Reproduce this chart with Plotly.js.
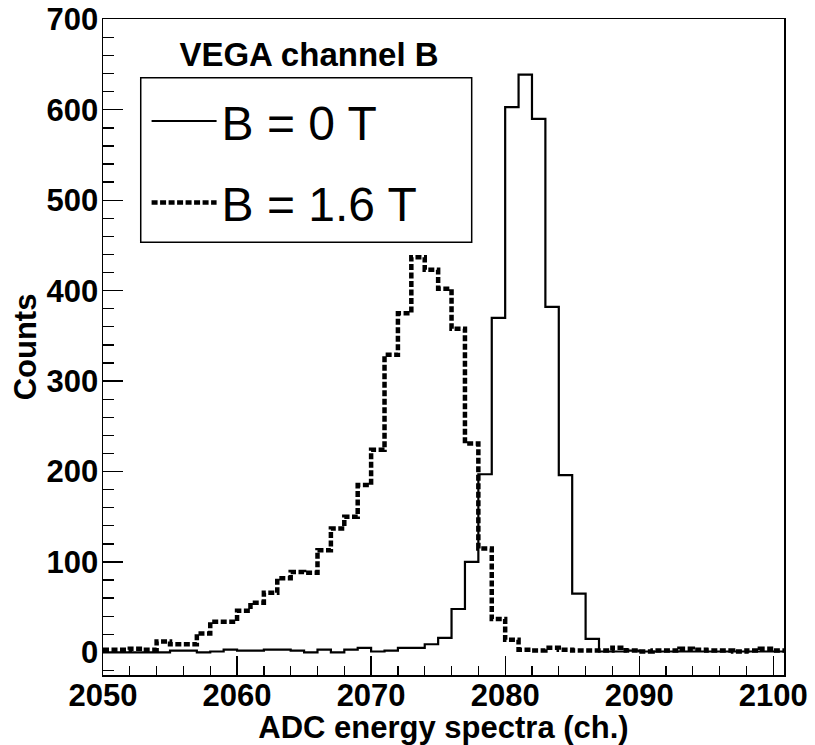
<!DOCTYPE html>
<html><head><meta charset="utf-8">
<script src="https://cdn.plot.ly/plotly-3.0.1.min.js"></script>
<style>html,body{margin:0;padding:0;background:#fff}#chart{width:815px;height:745px}</style>
</head><body><div id="chart"></div>
<script>
// bin lower edges (ADC channel), bin width 1
const channels = [2050,2051,2052,2053,2054,2055,2056,2057,2058,2059,
  2060,2061,2062,2063,2064,2065,2066,2067,2068,2069,
  2070,2071,2072,2073,2074,2075,2076,2077,2078,2079,
  2080,2081,2082,2083,2084,2085,2086,2087,2088,2089,
  2090,2091,2092,2093,2094,2095,2096,2097,2098,2099,2100];
const binWidth = 1;
// B = 0 T
const countsB0 = [0,0,0,0,0,2,2,0,1,3,
  2,2,3,3,2,0,3,0,3,5,
  1,2,5,5,9,16,48,100,197,370,
  603,639,590,382,196,65,15,1,1,2,
  1,1,1,1,1,1,1,1,1,1,1];
// B = 1.6 T
const countsB16 = [3,3,4,3,12,9,9,21,34,34,
  46,55,66,82,89,88,113,137,150,185,
  224,329,375,437,423,402,358,231,115,37,
  14,3,2,5,3,2,2,2,5,2,
  1,2,2,4,3,2,2,1,2,4,2];
const seriesNames = ['B = 0 T', 'B = 1.6 T'];
const xTickVals = [2050,2060,2070,2080,2090,2100];
const yTickVals = [0,100,200,300,400,500,600,700];

function steps(edges, counts) {
  const x = edges.slice(); x.push(edges[edges.length-1] + binWidth);
  const y = counts.slice(); y.push(counts[counts.length-1]);
  return {x, y};
}
const s0 = steps(channels, countsB0);
const s1 = steps(channels, countsB16);

const tickFont = {family: 'Liberation Sans, Arial, sans-serif', size: 31, color: '#000', weight: 'bold'};
const axTitleFont = {family: 'Liberation Sans, Arial, sans-serif', size: 31, color: '#000', weight: 'bold'};
const mainTitleFont = {family: 'Liberation Sans, Arial, sans-serif', size: 33, color: '#000', weight: 'bold'};

const traces = [
  {x: s0.x, y: s0.y, type: 'scatter', mode: 'lines', name: seriesNames[0],
   line: {shape: 'hv', color: '#000', width: 2.2}, legendgroup: 'a'},
  {x: s1.x, y: s1.y, type: 'scatter', mode: 'lines', name: seriesNames[1],
   line: {shape: 'hv', color: '#000', width: 4.5, dash: '6px,2.5px'}, legendgroup: 'b'}
];

const layout = {
  width: 815, height: 745,
  margin: {l: 103, r: 31, t: 19, b: 70, pad: 0},
  paper_bgcolor: '#fff', plot_bgcolor: '#fff',
  showlegend: true,
  title: {text: 'VEGA channel B', font: mainTitleFont, xref: 'paper', x: 0.3025, xanchor: 'center',
          yref: 'container', y: 1 - 54/745, yanchor: 'middle'},
  legend: {x: 0.064, y: 0.902, xanchor: 'left', yanchor: 'top', bgcolor: 'rgba(0,0,0,0)',
           borderwidth: 0, itemwidth: 65, traceorder: 'grouped', tracegroupgap: 16,
           font: {family: 'Liberation Sans, Arial, sans-serif', size: 48, color: '#000'}},
  shapes: [{type: 'rect', xref: 'paper', yref: 'paper', x0: 0.0554, x1: 0.5414, y0: 0.6596, y1: 0.9105,
            line: {color: '#000', width: 1.5}, fillcolor: 'rgba(0,0,0,0)'}],
  xaxis: {range: [2050, 2100.8], showgrid: false, zeroline: false,
          showline: true, linecolor: '#000', linewidth: 1.5, mirror: true,
          ticks: 'inside', ticklen: 19, tickwidth: 1.3, tickcolor: '#000',
          tickmode: 'array', tickvals: xTickVals, ticktext: xTickVals.map(String),
          tickfont: tickFont, ticklabelstandoff: -8,
          minor: {dtick: 2, tick0: 2050, ticks: 'inside', ticklen: 9, tickwidth: 1.3, tickcolor: '#000', showgrid: false},
          title: {text: 'ADC energy spectra (ch.)', font: axTitleFont, standoff: 16},
          automargin: false},
  yaxis: {range: [-25, 700.4], showgrid: false, zeroline: false,
          showline: true, linecolor: '#000', linewidth: 1.5, mirror: true,
          ticks: 'inside', ticklen: 20, tickwidth: 1.3, tickcolor: '#000',
          tickmode: 'array', tickvals: yTickVals, ticktext: yTickVals.map(String),
          tickfont: tickFont, ticklabelstandoff: -3,
          minor: {dtick: 20, tick0: 0, ticks: 'inside', ticklen: 11, tickwidth: 1.3, tickcolor: '#000', showgrid: false},
          title: {text: 'Counts', font: axTitleFont, standoff: 0},
          automargin: false}
};
Plotly.newPlot('chart', traces, layout, {displayModeBar: false, staticPlot: true});
</script></body></html>
